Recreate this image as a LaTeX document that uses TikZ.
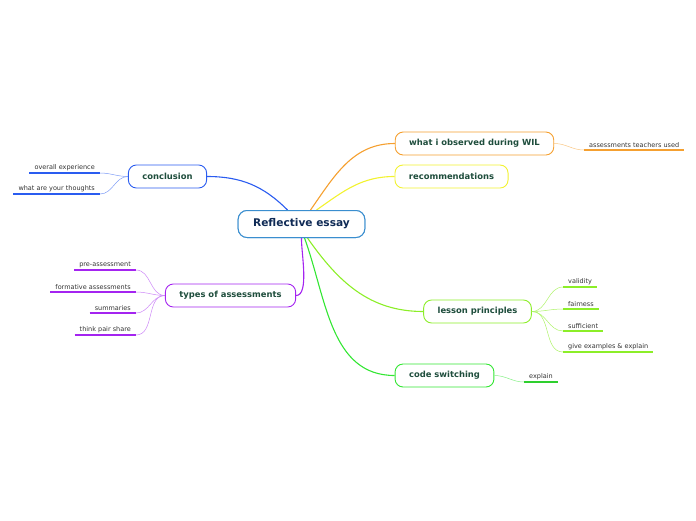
\documentclass[tikz,border=0pt]{standalone}
\usepackage{fontspec}
\setmainfont{DejaVu Sans}
\usetikzlibrary{positioning}
\definecolor{cblue}{HTML}{2A5CF0}
\definecolor{ccenter}{HTML}{3A8ECF}
\definecolor{corange}{HTML}{F5A030}
\definecolor{cyellow}{HTML}{F2F230}
\definecolor{cpurple}{HTML}{A424F0}
\definecolor{clime}{HTML}{8CEE28}
\definecolor{cgreen}{HTML}{33E633}
\definecolor{ctext}{HTML}{1E4D3C}
\definecolor{cnavy}{HTML}{0F2A55}
\tikzset{
  topic/.style={draw,line width=0.9pt,rounded corners=8pt,fill=white,text=ctext,
    font=\bfseries\fontsize{8.4}{10}\selectfont,inner xsep=14pt,minimum height=23pt,inner ysep=0pt},
  leaf/.style={text=black!80,font=\fontsize{6.5}{8}\selectfont,inner xsep=5pt,inner ysep=1.8pt},
  branch/.style={line width=1.1pt},
  twig/.style={line width=0.5pt},
  under/.style={line width=1.6pt}
}
\begin{document}
\begin{tikzpicture}[x=1pt,y=-1pt]
\useasboundingbox (0,0) rectangle (696,520);
% central topic
\node[draw=ccenter,line width=1pt,rounded corners=9pt,fill=white,text=cnavy,
  font=\bfseries\fontsize{10.6}{12}\selectfont,inner xsep=15pt,minimum height=27pt,inner ysep=0pt]
  (essay) at (301.5,224) {Reflective essay};
% main topics
\node[topic,draw=corange] (wil) at (474.5,143.5) {what i observed during WIL};
\node[topic,draw=cyellow] (recs) at (451.5,176.5) {recommendations};
\node[topic,draw=cblue] (concl) at (167.5,176.5) {conclusion};
\node[topic,draw=cpurple] (types) at (230.5,295.5) {types of assessments};
\node[topic,draw=clime] (lesson) at (477.5,311.5) {lesson principles};
\node[topic,draw=cgreen] (codesw) at (444.5,375.5) {code switching};
% leaves
\node[leaf,anchor=south west] (used) at (584,150) {assessments teachers used};
\node[leaf,anchor=south east] (overall) at (100,173) {overall experience};
\node[leaf,anchor=south east] (thoughts) at (100,194) {what are your thoughts};
\node[leaf,anchor=south east] (pre) at (136,270) {pre-assessment};
\node[leaf,anchor=south east] (formative) at (136,292) {formative assessments};
\node[leaf,anchor=south east] (summ) at (136,313) {summaries};
\node[leaf,anchor=south east] (think) at (136,335) {think pair share};
\node[leaf,anchor=south west] (valid) at (563,287) {validity};
\node[leaf,anchor=south west] (fair) at (563,309) {fairness};
\node[leaf,anchor=south west] (suff) at (563,331) {sufficient};
\node[leaf,anchor=south west] (give) at (563,352) {give examples \& explain};
\node[leaf,anchor=south west] (expl) at (524,382) {explain};
% underlines
\draw[under,corange] (used.south west) -- (used.south east);
\foreach \n in {overall,thoughts} \draw[under,cblue] (\n.south west) -- (\n.south east);
\foreach \n in {pre,formative,summ,think} \draw[under,cpurple] (\n.south west) -- (\n.south east);
\foreach \n in {valid,fair,suff,give} \draw[under,clime] (\n.south west) -- (\n.south east);
\draw[under,cgreen!90!black] (expl.south west) -- (expl.south east);
% branches from the centre
\draw[branch,cblue] ([xshift=-14pt]essay.north) to[out=135,in=0] (concl.east);
\draw[branch,corange] ([xshift=9pt]essay.north) to[out=55,in=180] (wil.west);
\draw[branch,cyellow] ([xshift=15pt]essay.north) to[out=35,in=180] (recs.west);
\draw[branch,cpurple] (essay.south) to[out=-92,in=0,looseness=0.6] (types.east);
\draw[branch,clime] ([xshift=6pt]essay.south) to[out=-55,in=180] (lesson.west);
\draw[branch,cgreen] ([xshift=3pt]essay.south) to[out=-70,in=180] (codesw.west);
% twigs to leaves
\draw[twig,corange!60] (wil.east) to[out=0,in=180] (used.south west);
\foreach \n in {overall,thoughts} \draw[twig,cblue!60] (concl.west) to[out=180,in=0] (\n.south east);
\foreach \n in {pre,formative,summ,think} \draw[twig,cpurple!55] (types.west) to[out=180,in=0] (\n.south east);
\foreach \n in {valid,fair,suff,give} \draw[twig,clime!70] (lesson.east) to[out=0,in=180] (\n.south west);
\draw[twig,cgreen!60] (codesw.east) to[out=0,in=180] (expl.south west);
% redraw the centre over the branches
\node[draw=ccenter,line width=1pt,rounded corners=9pt,fill=white,text=cnavy,
  font=\bfseries\fontsize{10.6}{12}\selectfont,inner xsep=15pt,minimum height=27pt,inner ysep=0pt]
  at (essay) {Reflective essay};
\end{tikzpicture}
\end{document}
